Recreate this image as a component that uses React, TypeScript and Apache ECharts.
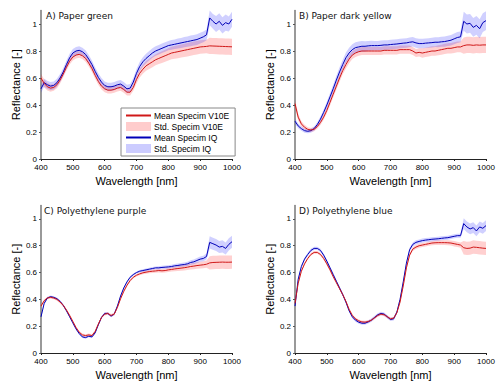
import React, { useEffect, useRef } from "react";
import * as echarts from "echarts";

const WAVELENGTHS = [400,410,420,430,440,450,460,470,480,490,500,510,520,530,540,550,560,570,580,590,600,610,620,630,640,650,660,670,680,690,700,710,720,730,740,750,760,770,780,790,800,810,820,830,840,850,860,870,880,890,900,910,920,930,940,950,960,970,980,990,1000];

const TITLES = ["A) Paper green", "B) Paper dark yellow", "C) Polyethylene purple", "D) Polyethylene blue"];

// Panel A
const A_V10E_MEAN = [0.60,0.56,0.535,0.525,0.53,0.55,0.585,0.63,0.68,0.725,0.755,0.77,0.775,0.765,0.745,0.71,0.67,0.62,0.575,0.54,0.52,0.51,0.51,0.515,0.525,0.53,0.515,0.495,0.495,0.53,0.59,0.635,0.665,0.69,0.705,0.72,0.735,0.745,0.755,0.765,0.775,0.785,0.79,0.795,0.80,0.805,0.81,0.815,0.82,0.825,0.83,0.832,0.834,0.838,0.837,0.836,0.835,0.834,0.833,0.832,0.831];
const A_V10E_STD = [0.03,0.03,0.028,0.026,0.025,0.025,0.025,0.025,0.025,0.025,0.025,0.025,0.025,0.025,0.025,0.025,0.025,0.025,0.025,0.025,0.025,0.025,0.025,0.025,0.025,0.025,0.025,0.025,0.025,0.025,0.03,0.032,0.034,0.036,0.038,0.04,0.041,0.042,0.043,0.044,0.045,0.046,0.047,0.048,0.048,0.049,0.05,0.05,0.05,0.05,0.05,0.05,0.05,0.06,0.06,0.06,0.06,0.06,0.06,0.06,0.06];
const A_IQ_MEAN = [0.52,0.565,0.55,0.54,0.545,0.565,0.60,0.645,0.70,0.75,0.785,0.80,0.805,0.795,0.775,0.74,0.70,0.65,0.605,0.57,0.545,0.535,0.535,0.54,0.55,0.555,0.54,0.52,0.525,0.57,0.635,0.685,0.72,0.745,0.765,0.785,0.80,0.81,0.82,0.83,0.84,0.845,0.85,0.855,0.86,0.865,0.87,0.875,0.88,0.885,0.895,0.905,0.92,1.045,1.02,1.0,1.02,0.99,1.01,1.0,1.035];
const A_IQ_STD = [0.03,0.03,0.03,0.03,0.03,0.03,0.03,0.03,0.03,0.03,0.03,0.03,0.03,0.03,0.03,0.03,0.03,0.03,0.03,0.03,0.03,0.03,0.03,0.03,0.03,0.03,0.03,0.03,0.03,0.03,0.032,0.033,0.034,0.035,0.035,0.035,0.035,0.035,0.035,0.035,0.035,0.036,0.036,0.037,0.037,0.038,0.038,0.039,0.039,0.04,0.04,0.04,0.04,0.055,0.055,0.06,0.06,0.06,0.06,0.055,0.055];

// Panel B
const B_V10E_MEAN = [0.41,0.31,0.26,0.235,0.22,0.215,0.22,0.24,0.27,0.31,0.36,0.42,0.48,0.54,0.60,0.655,0.70,0.74,0.77,0.785,0.795,0.80,0.80,0.80,0.80,0.80,0.80,0.80,0.805,0.805,0.805,0.805,0.805,0.81,0.81,0.81,0.81,0.80,0.785,0.79,0.785,0.79,0.795,0.80,0.80,0.805,0.81,0.815,0.82,0.82,0.825,0.83,0.83,0.84,0.845,0.845,0.842,0.845,0.843,0.845,0.845];
const B_V10E_STD = [0.03,0.025,0.02,0.018,0.015,0.015,0.015,0.016,0.018,0.02,0.022,0.024,0.025,0.026,0.027,0.028,0.029,0.03,0.03,0.03,0.03,0.03,0.03,0.03,0.03,0.03,0.03,0.03,0.03,0.03,0.03,0.03,0.03,0.03,0.03,0.03,0.03,0.03,0.03,0.03,0.035,0.035,0.035,0.036,0.036,0.037,0.037,0.038,0.038,0.039,0.04,0.04,0.04,0.06,0.06,0.06,0.06,0.06,0.06,0.06,0.06];
const B_IQ_MEAN = [0.28,0.245,0.225,0.21,0.205,0.21,0.225,0.255,0.295,0.345,0.40,0.46,0.52,0.585,0.645,0.70,0.75,0.785,0.81,0.825,0.83,0.835,0.835,0.838,0.84,0.84,0.84,0.842,0.845,0.845,0.848,0.85,0.852,0.855,0.858,0.86,0.865,0.868,0.86,0.855,0.855,0.858,0.86,0.862,0.865,0.865,0.868,0.87,0.875,0.88,0.89,0.90,0.905,1.02,1.0,1.005,0.975,0.99,0.965,1.01,1.025];
const B_IQ_STD = [0.02,0.018,0.016,0.015,0.015,0.015,0.016,0.018,0.02,0.022,0.025,0.027,0.03,0.032,0.034,0.036,0.038,0.04,0.04,0.04,0.04,0.04,0.038,0.037,0.036,0.035,0.035,0.035,0.035,0.035,0.035,0.035,0.035,0.035,0.035,0.035,0.035,0.035,0.035,0.035,0.035,0.035,0.035,0.036,0.036,0.037,0.037,0.038,0.038,0.039,0.04,0.04,0.04,0.07,0.07,0.07,0.07,0.07,0.07,0.07,0.07];

// Panel C
const C_V10E_MEAN = [0.35,0.39,0.41,0.415,0.41,0.40,0.38,0.355,0.32,0.28,0.235,0.19,0.155,0.135,0.13,0.135,0.13,0.16,0.215,0.265,0.29,0.295,0.28,0.29,0.34,0.405,0.46,0.505,0.54,0.565,0.58,0.59,0.598,0.603,0.607,0.61,0.612,0.615,0.613,0.615,0.62,0.623,0.627,0.63,0.633,0.636,0.64,0.645,0.648,0.652,0.655,0.658,0.662,0.672,0.675,0.676,0.677,0.678,0.677,0.677,0.678];
const C_V10E_STD = [0.01,0.01,0.01,0.01,0.01,0.01,0.01,0.01,0.01,0.01,0.01,0.01,0.01,0.01,0.01,0.01,0.01,0.01,0.01,0.01,0.01,0.01,0.01,0.01,0.01,0.01,0.01,0.01,0.01,0.01,0.01,0.011,0.011,0.012,0.012,0.013,0.013,0.014,0.014,0.015,0.015,0.016,0.017,0.018,0.019,0.02,0.021,0.022,0.023,0.024,0.025,0.026,0.027,0.05,0.05,0.05,0.05,0.05,0.05,0.05,0.05];
const C_IQ_MEAN = [0.27,0.37,0.41,0.42,0.415,0.405,0.385,0.355,0.315,0.27,0.225,0.18,0.145,0.12,0.115,0.125,0.12,0.15,0.21,0.265,0.295,0.295,0.275,0.29,0.35,0.425,0.485,0.53,0.565,0.585,0.60,0.61,0.615,0.62,0.625,0.63,0.635,0.635,0.638,0.64,0.642,0.645,0.65,0.653,0.657,0.66,0.665,0.675,0.68,0.69,0.70,0.705,0.72,0.825,0.815,0.805,0.79,0.795,0.78,0.81,0.83];
const C_IQ_STD = [0.008,0.008,0.008,0.008,0.008,0.008,0.008,0.008,0.008,0.008,0.008,0.008,0.008,0.008,0.008,0.008,0.008,0.008,0.008,0.008,0.008,0.008,0.008,0.008,0.008,0.008,0.008,0.008,0.008,0.008,0.008,0.009,0.009,0.01,0.01,0.011,0.011,0.012,0.012,0.012,0.012,0.013,0.013,0.014,0.014,0.015,0.016,0.017,0.018,0.019,0.02,0.021,0.022,0.045,0.045,0.045,0.045,0.045,0.045,0.045,0.045];

// Panel D
const D_V10E_MEAN = [0.37,0.52,0.61,0.665,0.705,0.735,0.75,0.75,0.735,0.705,0.665,0.62,0.57,0.525,0.48,0.435,0.385,0.325,0.28,0.255,0.24,0.232,0.23,0.235,0.245,0.262,0.28,0.29,0.285,0.27,0.255,0.26,0.30,0.38,0.50,0.635,0.73,0.775,0.79,0.80,0.805,0.81,0.815,0.82,0.822,0.823,0.823,0.823,0.822,0.82,0.815,0.81,0.805,0.785,0.78,0.782,0.79,0.788,0.785,0.782,0.78];
const D_V10E_STD = [0.01,0.01,0.01,0.01,0.01,0.01,0.01,0.01,0.01,0.01,0.01,0.01,0.01,0.01,0.01,0.01,0.01,0.01,0.01,0.01,0.01,0.01,0.01,0.01,0.01,0.01,0.01,0.01,0.01,0.01,0.01,0.01,0.01,0.01,0.01,0.012,0.013,0.014,0.015,0.015,0.015,0.015,0.016,0.016,0.017,0.017,0.018,0.018,0.019,0.019,0.02,0.02,0.02,0.05,0.05,0.05,0.05,0.05,0.05,0.05,0.05];
const D_IQ_MEAN = [0.35,0.55,0.645,0.70,0.735,0.765,0.78,0.78,0.765,0.73,0.685,0.635,0.585,0.535,0.485,0.435,0.38,0.315,0.27,0.245,0.23,0.222,0.222,0.232,0.245,0.265,0.285,0.295,0.29,0.27,0.25,0.255,0.305,0.40,0.53,0.67,0.77,0.81,0.825,0.832,0.838,0.842,0.845,0.848,0.85,0.852,0.855,0.858,0.86,0.865,0.87,0.875,0.875,0.965,0.94,0.925,0.935,0.91,0.94,0.93,0.95];
const D_IQ_STD = [0.012,0.012,0.012,0.012,0.012,0.012,0.012,0.012,0.012,0.012,0.012,0.012,0.012,0.012,0.012,0.012,0.012,0.012,0.012,0.012,0.012,0.012,0.012,0.012,0.012,0.012,0.012,0.012,0.012,0.012,0.012,0.012,0.012,0.012,0.012,0.013,0.014,0.015,0.015,0.015,0.015,0.015,0.015,0.015,0.015,0.015,0.015,0.015,0.015,0.015,0.015,0.015,0.015,0.04,0.04,0.04,0.04,0.04,0.04,0.04,0.04];

const PANEL_DATA = [
  { v10e: A_V10E_MEAN, v10eStd: A_V10E_STD, iq: A_IQ_MEAN, iqStd: A_IQ_STD },
  { v10e: B_V10E_MEAN, v10eStd: B_V10E_STD, iq: B_IQ_MEAN, iqStd: B_IQ_STD },
  { v10e: C_V10E_MEAN, v10eStd: C_V10E_STD, iq: C_IQ_MEAN, iqStd: C_IQ_STD },
  { v10e: D_V10E_MEAN, v10eStd: D_V10E_STD, iq: D_IQ_MEAN, iqStd: D_IQ_STD },
];

const NAME_V10E = "Mean Specim V10E";
const NAME_V10E_STD = "Std. Specim V10E";
const NAME_IQ = "Mean Specim IQ";
const NAME_IQ_STD = "Std. Specim IQ";

const RED = "#d01818";
const BLUE = "#0000b8";
const RED_BAND = "rgba(255,40,40,0.22)";
const BLUE_BAND = "rgba(40,40,255,0.22)";

const GRIDS = [
  { left: 41, top: 10.5, width: 191, height: 148.5 },
  { left: 295, top: 10.5, width: 191, height: 148.5 },
  { left: 41, top: 205.5, width: 191, height: 147.5 },
  { left: 295, top: 205.5, width: 191, height: 147.5 },
];
const TITLE_POS = [
  { left: 46, top: 11 },
  { left: 299, top: 11 },
  { left: 44, top: 206 },
  { left: 299, top: 206 },
];

const SANS = "'Liberation Sans', Arial, sans-serif";

function bandSeries(i: number, name: string, mean: number[], std: number[], fill: string, z: number) {
  return {
    type: "custom",
    name,
    xAxisIndex: i,
    yAxisIndex: i,
    color: fill,
    silent: true,
    z,
    data: [[WAVELENGTHS[0], mean[0]]],
    renderItem: (_params: any, api: any) => {
      const pts: number[][] = [];
      for (let k = 0; k < WAVELENGTHS.length; k++) pts.push(api.coord([WAVELENGTHS[k], mean[k] + std[k]]));
      for (let k = WAVELENGTHS.length - 1; k >= 0; k--) pts.push(api.coord([WAVELENGTHS[k], mean[k] - std[k]]));
      return { type: "polygon", shape: { points: pts }, style: { fill, stroke: "none" } };
    },
  };
}

function buildOption() {
  const series: any[] = [];
  PANEL_DATA.forEach((p, i) => {
    const pts = (ys: number[]) => WAVELENGTHS.map((x, k) => [x, ys[k]]);
    const common = { type: "line", xAxisIndex: i, yAxisIndex: i, symbol: "none", showSymbol: false, silent: true };
    series.push(bandSeries(i, NAME_V10E_STD, p.v10e, p.v10eStd, RED_BAND, 1));
    series.push(bandSeries(i, NAME_IQ_STD, p.iq, p.iqStd, BLUE_BAND, 2));
    series.push({ ...common, name: NAME_IQ, color: BLUE, data: pts(p.iq), lineStyle: { color: BLUE, width: 1 }, z: 3 });
    series.push({ ...common, name: NAME_V10E, color: RED, data: pts(p.v10e), lineStyle: { color: RED, width: 1 }, z: 4 });
  });

  const lineIcon = "path://M0,0L25,0L25,2L0,2Z";

  return {
    animation: false,
    backgroundColor: "#fff",
    title: TITLES.map((t, i) => ({
      text: t,
      left: TITLE_POS[i].left,
      top: TITLE_POS[i].top,
      padding: 0,
      textStyle: { fontFamily: "'DejaVu Sans', Verdana, sans-serif", fontSize: 9, fontWeight: "normal", color: "#111" },
    })),
    legend: {
      show: true,
      orient: "vertical",
      left: 121,
      top: 108,
      padding: [3, 6, 3, 5],
      itemGap: 2,
      itemWidth: 25,
      itemHeight: 9,
      borderColor: "#888",
      borderWidth: 1,
      backgroundColor: "#fff",
      selectedMode: false,
      textStyle: { fontFamily: SANS, fontSize: 8.5, color: "#000", padding: [0, 0, 0, -2] },
      data: [
        { name: NAME_V10E, icon: lineIcon, itemStyle: { color: RED, borderWidth: 0 } },
        { name: NAME_V10E_STD, icon: "rect", itemStyle: { color: "#ffcccc", borderWidth: 0 } },
        { name: NAME_IQ, icon: lineIcon, itemStyle: { color: BLUE, borderWidth: 0 } },
        { name: NAME_IQ_STD, icon: "rect", itemStyle: { color: "#ccccff", borderWidth: 0 } },
      ],
    },
    grid: GRIDS.map((g) => ({ ...g, containLabel: false })),
    xAxis: GRIDS.map((_, i) => ({
      type: "value",
      gridIndex: i,
      min: 400,
      max: 1000,
      interval: 100,
      name: "Wavelength [nm]",
      nameLocation: "middle",
      nameGap: 16,
      nameTextStyle: { fontFamily: SANS, fontSize: 11, color: "#000" },
      axisLine: { show: true, lineStyle: { color: "#222", width: 1 } },
      axisTick: { show: true, length: 2, lineStyle: { color: "#222" } },
      axisLabel: { fontFamily: SANS, fontSize: 8, color: "#000", margin: 4, formatter: (v: number) => String(v) },
      splitLine: { show: false },
    })),
    yAxis: GRIDS.map((_, i) => ({
      type: "value",
      gridIndex: i,
      min: 0,
      max: 1.1,
      interval: 0.2,
      name: "Reflectance [-]",
      nameLocation: "middle",
      nameGap: 18,
      nameTextStyle: { fontFamily: SANS, fontSize: 11, color: "#000" },
      axisLine: { show: true, lineStyle: { color: "#777", width: 1.5 } },
      axisTick: { show: true, length: 2, lineStyle: { color: "#555" } },
      axisLabel: {
        fontFamily: SANS,
        fontSize: 8,
        color: "#000",
        margin: 4,
        showMaxLabel: false,
        formatter: (v: number) => (v > 1.05 ? "" : String(Math.round(v * 10) / 10)),
      },
      splitLine: { show: false },
    })),
    series,
  };
}

export default function App() {
  const ref = useRef<HTMLDivElement>(null);
  useEffect(() => {
    document.body.style.margin = "0";
    if (!ref.current) return;
    const chart = echarts.init(ref.current, undefined, { renderer: "svg" });
    chart.setOption(buildOption() as any);
    return () => chart.dispose();
  }, []);
  return <div ref={ref} style={{ width: 500, height: 384 }} />;
}
